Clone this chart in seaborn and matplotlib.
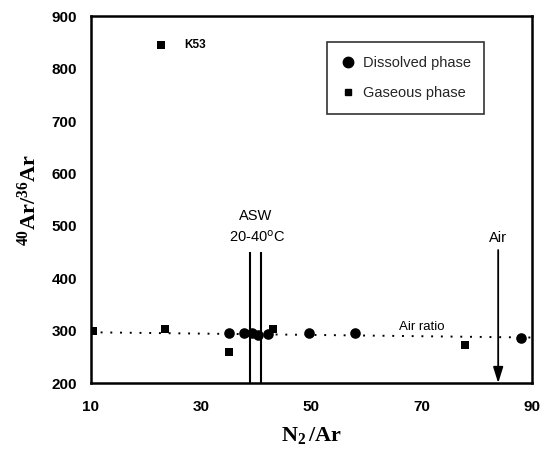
import matplotlib
matplotlib.use("Agg")
import matplotlib.pyplot as plt
from matplotlib.lines import Line2D
import seaborn as sns
import pandas as pd

# N2/Ar and 40Ar/36Ar of the samples
dissolved_n2ar = [35.1, 37.7, 39.2, 40.4, 42.2, 49.6, 58.0, 88.0]
dissolved_ar = [295, 295, 295, 291, 294, 295, 295, 287]
gaseous_n2ar = [10.3, 23.4, 22.8, 35.1, 43.0, 77.9]
gaseous_ar = [300, 303, 845, 259, 303, 272]

# air-saturated water range (20-40 degC) and air value of N2/Ar
asw_n2ar = [38.8, 40.9]
air_n2ar = 83.9
air_ratio_line_x = [10, 90]
air_ratio_line_y = [297, 287]

x_ticks = [10, 30, 50, 70, 90]
y_ticks = [200, 300, 400, 500, 600, 700, 800, 900]

sns.set_theme(style="white")
plt.rcParams["font.family"] = ["Liberation Sans", "DejaVu Sans"]
plt.rcParams["mathtext.fontset"] = "custom"
plt.rcParams["mathtext.rm"] = "Liberation Serif:bold"
plt.rcParams["mathtext.it"] = "Liberation Serif:bold"
plt.rcParams["mathtext.bf"] = "Liberation Serif:bold"

fig = plt.figure(figsize=(5.41, 4.55), dpi=100)
ax = fig.add_axes([0.168, 0.158, 0.815, 0.806])

df_d = pd.DataFrame({"n2ar": dissolved_n2ar, "ar": dissolved_ar})
df_g = pd.DataFrame({"n2ar": gaseous_n2ar, "ar": gaseous_ar})

# air ratio reference line
ax.plot(air_ratio_line_x, air_ratio_line_y, color="black", lw=1.4,
        linestyle=(0, (1, 4)), zorder=1)

sns.scatterplot(data=df_d, x="n2ar", y="ar", marker="o", s=58, color="black",
                edgecolor="black", linewidth=0, ax=ax, zorder=3)
sns.scatterplot(data=df_g, x="n2ar", y="ar", marker="s", s=28, color="black",
                edgecolor="black", linewidth=0, ax=ax, zorder=3)

# ASW bounds
ax.vlines(asw_n2ar, 200, 450, color="black", lw=1.5, zorder=2)
ax.text(sum(asw_n2ar) / 2, 519, "ASW", ha="center", va="center",
        fontsize=10.5, color="black")
ax.text(sum(asw_n2ar) / 2 + 0.3, 479, "20-40$^{\\mathsf{o}}$C", ha="center",
        va="center", fontsize=10.5, color="black")

# air arrow
ax.annotate("", xy=(air_n2ar, 200), xytext=(air_n2ar, 454),
            arrowprops=dict(arrowstyle="-|>,head_length=0.8,head_width=0.25",
                            color="black", lw=1.3, shrinkA=0, shrinkB=0))
ax.text(air_n2ar, 477, "Air", ha="center", va="center", fontsize=10.5,
        color="black")

ax.text(70, 308, "Air ratio", ha="center", va="center", fontsize=9.5,
        color="black")
ax.text(28.9, 845, "K53", ha="center", va="center", fontsize=8.5,
        fontweight="bold", color="black")

ax.set_xlim(10, 90)
ax.set_ylim(200, 900)
ax.set_xticks(x_ticks)
ax.set_yticks(y_ticks)
ax.set_xticklabels([str(v) for v in x_ticks], fontsize=11, fontweight="bold")
ax.set_yticklabels([str(v) for v in y_ticks], fontsize=11, fontweight="bold")
ax.tick_params(axis="both", direction="in", length=4, width=1.5,
               colors="black", pad=12)
ax.tick_params(axis="y", pad=10)
for sp in ax.spines.values():
    sp.set_visible(True)
    sp.set_color("black")
    sp.set_linewidth(1.8)

ax.set_xlabel(r"$\mathrm{N_2\,/Ar}$", fontsize=16, labelpad=8, color="black")
ax.set_ylabel(r"$\mathrm{^{40}Ar/^{36}Ar}$", fontsize=16, labelpad=8,
              color="black")

handles = [
    Line2D([], [], marker="o", color="black", ls="none", markersize=7.5),
    Line2D([], [], marker="s", color="black", ls="none", markersize=5),
]
leg = ax.legend(handles, ["Dissolved phase", "Gaseous phase"],
                loc="upper left", bbox_to_anchor=(0.535, 0.93),
                frameon=True, fancybox=False, fontsize=10.5,
                handletextpad=0.5, labelspacing=1.1, borderpad=0.95,
                handlelength=1.0, borderaxespad=0)
leg.get_frame().set_edgecolor("black")
leg.get_frame().set_linewidth(1.2)

fig.savefig("out.png", dpi=100)
